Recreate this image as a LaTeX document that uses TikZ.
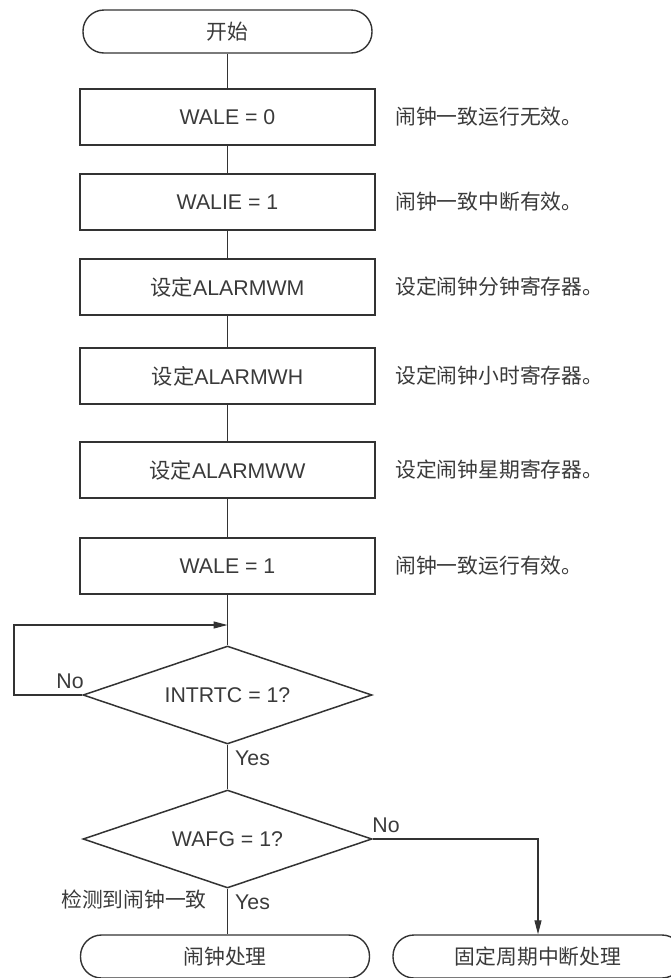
\documentclass[tikz,border=0pt]{standalone}
\usepackage{fontspec}
\setmainfont{Liberation Sans}
\newfontfamily\cjk{Noto Sans CJK SC}
\usetikzlibrary{positioning,arrows.meta,shapes.geometric}
\definecolor{colTrazo}{HTML}{333333}
\definecolor{colTexto}{HTML}{3A3A3A}

\begin{document}
\begin{tikzpicture}[x=1pt, y=-1pt,
        bloque/.style={rectangle, draw=colTrazo, line width=1.5pt, minimum width=295pt,
            minimum height=56pt, text=colTexto, font=\fontsize{21.3}{25}\selectfont},
        terminal/.style={rectangle, rounded corners=21pt, draw=colTrazo, line width=1.4pt,
            minimum width=289pt, minimum height=43pt, text=colTexto, font=\cjk\fontsize{20.8}{25}\selectfont},
        decision/.style={diamond, aspect=2.95, inner sep=0pt, draw=colTrazo, line width=1.5pt,
            minimum width=289pt, minimum height=98pt, text=colTexto, font=\fontsize{21.3}{25}\selectfont},
        nota/.style={anchor=west, inner sep=0pt, text=colTexto, font=\cjk\fontsize{20.8}{25}\selectfont},
        etiqueta/.style={inner sep=0pt, text=colTexto, font=\fontsize{21.3}{25}\selectfont},
        linea/.style={draw=colTrazo, line width=1.2pt},
        flecha/.style={linea, -{Triangle[length=14pt, width=7pt]}}
    ]
        \useasboundingbox (0,0) rectangle (670,978);

        \node[terminal] (inicio) at (227.5,31.5) {开始};

        \node[bloque] (wale0) at (227.5,117) {WALE = 0};
        \node[nota] (nwale0) at (395,117) {闹钟一致运行无效。};

        \node[bloque] (walie) at (227.5,202) {WALIE = 1};
        \node[nota] (nwalie) at (395,202) {闹钟一致中断有效。};

        \node[bloque] (alarmwm) at (227.5,287) {{\cjk 设定}ALARMWM};
        \node[nota] (nalarmwm) at (395,287) {设定闹钟分钟寄存器。};

        \node[bloque] (alarmwh) at (227.5,376) {{\cjk 设定}ALARMWH};
        \node[nota] (nalarmwh) at (395,376) {设定闹钟小时寄存器。};

        \node[bloque] (alarmww) at (227.5,470) {{\cjk 设定}ALARMWW};
        \node[nota] (nalarmww) at (395,470) {设定闹钟星期寄存器。};

        \node[bloque] (wale1) at (227.5,566) {WALE = 1};
        \node[nota] (nwale1) at (395,566) {闹钟一致运行有效。};

        \node[decision] (intrtc) at (227.5,695) {INTRTC = 1?};
        \node[decision] (wafg) at (227.5,839) {WAFG = 1?};

        \node[terminal] (alarma) at (225,956.5) {闹钟处理};
        \node[terminal, minimum width=290pt] (periodo) at (538,956.5) {固定周期中断处理};

        \draw[linea] (inicio) -- (wale0);
        \draw[linea] (wale0) -- (walie);
        \draw[linea] (walie) -- (alarmwm);
        \draw[linea] (alarmwm) -- (alarmwh);
        \draw[linea] (alarmwh) -- (alarmww);
        \draw[linea] (alarmww) -- (wale1);
        \draw[linea] (wale1) -- (intrtc);

        % bucle de espera
        \coordinate (union) at (227.5,625);
        \coordinate (vuelta) at (14,695);
        \draw[flecha] (intrtc.west) -- (vuelta) |- (union);
        \node[etiqueta] (no1) at (70,681) {No};

        \draw[linea] (intrtc) -- (wafg);
        \node[etiqueta, anchor=west] (si1) at (235,758) {Yes};

        \draw[linea] (wafg.south) -- (wafg.south |- alarma.north);
        \node[etiqueta, anchor=west] (si2) at (235,902) {Yes};
        \node[etiqueta, anchor=east, font=\cjk\fontsize{20.8}{25}\selectfont] (detecta) at (207,900) {检测到闹钟一致};

        \draw[flecha] (wafg.east) -| (periodo.north);
        \node[etiqueta] (no2) at (386,825) {No};
    \end{tikzpicture}
\end{document}
